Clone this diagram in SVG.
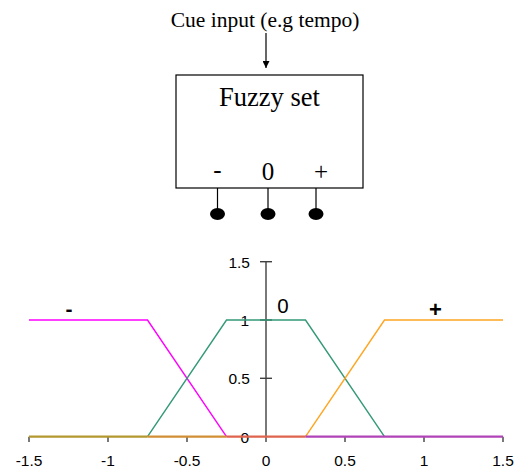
<svg xmlns="http://www.w3.org/2000/svg" width="516" height="470" viewBox="0 0 516 470">
<defs>
<marker id="ah" viewBox="0 0 10 10" refX="10" refY="5" markerWidth="7" markerHeight="7" markerUnits="userSpaceOnUse" orient="auto"><path d="M0,0 L10,5 L0,10 z" fill="#000"/></marker>
<style>
.serif{font-family:"Liberation Serif","Times New Roman",serif;fill:#000}
.sans{font-family:"Liberation Sans",Arial,sans-serif;fill:#000}
.ln{fill:none;stroke-width:1.4}
.axis{stroke:#404040;stroke-width:1.4;fill:none}
</style>
</defs>
<rect width="516" height="470" fill="#fff"/>
<g id="cue-input">
<text class="serif" x="265" y="27" font-size="21.5" text-anchor="middle">Cue input (e.g tempo)</text>
</g>
<g id="fuzzy-set">
<rect x="176" y="75" width="187" height="113" fill="#fff" stroke="#000" stroke-width="1.2"/>
<text class="serif" x="269.5" y="106" font-size="26.5" text-anchor="middle">Fuzzy set</text>
<text class="serif" x="217.5" y="178" font-size="25" text-anchor="middle">-</text>
<text class="serif" x="268" y="180" font-size="25" text-anchor="middle">0</text>
<text class="serif" x="321" y="180" font-size="25" text-anchor="middle">+</text>
</g>
<g id="out-neg"><ellipse cx="217.5" cy="214" rx="7.5" ry="6" fill="#000"/></g>
<g id="out-zero"><ellipse cx="268" cy="214" rx="7.5" ry="6" fill="#000"/></g>
<g id="out-pos"><ellipse cx="316" cy="214" rx="7.5" ry="6" fill="#000"/></g>
<g id="connectors" stroke="#000" stroke-width="1.2" fill="none">
<line x1="266" y1="33" x2="266" y2="68" marker-end="url(#ah)"/>
<line x1="217.5" y1="188" x2="217.5" y2="212"/>
<line x1="268" y1="188" x2="268" y2="212"/>
<line x1="316" y1="188" x2="316" y2="212"/>
</g>
<g id="chart">
<g class="axis">
<line x1="266" y1="261.7" x2="266" y2="442"/>
<line x1="260" y1="261.7" x2="272" y2="261.7"/>
<line x1="260" y1="320" x2="272" y2="320"/>
<line x1="260" y1="378.3" x2="272" y2="378.3"/>
<line x1="29" y1="436.7" x2="29" y2="442"/>
<line x1="108" y1="436.7" x2="108" y2="442"/>
<line x1="187" y1="436.7" x2="187" y2="442"/>
<line x1="345" y1="436.7" x2="345" y2="442"/>
<line x1="424" y1="436.7" x2="424" y2="442"/>
<line x1="503" y1="436.7" x2="503" y2="442"/>
</g>
<g class="sans" font-size="15.5" text-anchor="end">
<text x="250" y="268">1.5</text>
<text x="249" y="326">1</text>
<text x="250" y="384">0.5</text>
<text x="249" y="443">0</text>
</g>
<g class="sans" font-size="15.5" text-anchor="middle">
<text x="29" y="466">-1.5</text>
<text x="108" y="466">-1</text>
<text x="187" y="466">-0.5</text>
<text x="266" y="466">0</text>
<text x="345" y="466">0.5</text>
<text x="424" y="466">1</text>
<text x="503" y="466">1.5</text>
</g>
<polyline class="ln" stroke="#ff00ff" points="29,320 147.5,320 226.5,436.7"/>
<polyline class="ln" stroke="#339977" points="147.5,436.7 226.5,320 305.5,320 384.5,436.7"/>
<polyline class="ln" stroke="#ffa520" points="305.5,436.7 384.5,320 503,320"/>
<g fill="none" stroke-width="2.2">
<line x1="29" y1="436.7" x2="147.5" y2="436.7" stroke="#b3972f"/>
<line x1="147.5" y1="436.7" x2="226.5" y2="436.7" stroke="#d28f35"/>
<line x1="226.5" y1="436.7" x2="305.5" y2="436.7" stroke="#e0634e"/>
<line x1="305.5" y1="436.7" x2="503" y2="436.7" stroke="#b043b8"/>
</g>
<text class="sans" x="69" y="316" font-size="21" font-weight="bold" text-anchor="middle">-</text>
<text class="sans" x="283" y="313" font-size="20.5" text-anchor="middle">0</text>
<text class="sans" x="435.5" y="317" font-size="22" font-weight="bold" text-anchor="middle">+</text>
</g>
</svg>
